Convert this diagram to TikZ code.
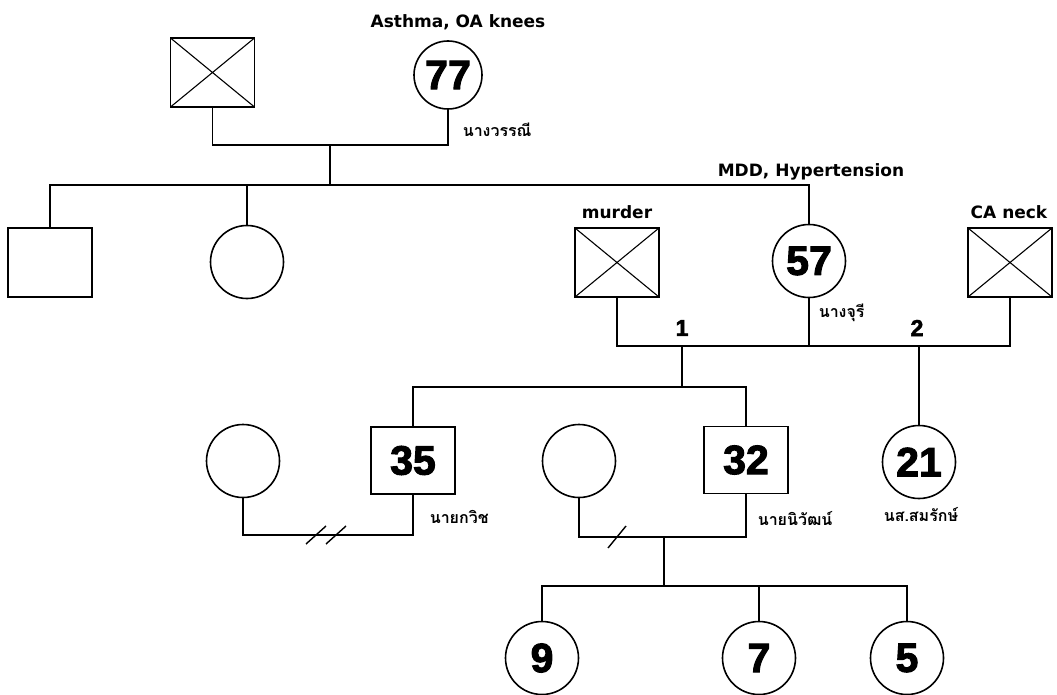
\documentclass[tikz,border=0pt]{standalone}
\usepackage{fontspec}
\setmainfont{DejaVu Sans}
\newfontfamily\thaifont[Script=Thai]{Loma}
\newfontfamily\agefont{Liberation Sans}[BoldFeatures={FakeBold=2.5}]
\usetikzlibrary{calc}
\begin{document}
\begin{tikzpicture}[x=1pt,y=-1pt,line width=1.6pt,
  male/.style={draw,rectangle,minimum width=84pt,minimum height=69pt,inner sep=0pt},
  female/.style={draw,circle,minimum size=73pt,inner sep=0pt},
  dead/.style={path picture={\draw[line width=1.1pt]
      (path picture bounding box.north west) -- (path picture bounding box.south east)
      (path picture bounding box.north east) -- (path picture bounding box.south west);}},
  age/.style={font=\agefont\bfseries\fontsize{41}{41}\selectfont},
  note/.style={font=\bfseries\fontsize{17}{17}\selectfont,inner sep=0pt},
  mnum/.style={font=\agefont\bfseries\fontsize{23}{23}\selectfont,inner sep=0pt},
  thai/.style={font=\thaifont\bfseries\fontsize{16}{16}\selectfont,anchor=west,inner sep=0pt},
  slash/.style={line width=1.4pt}]
\useasboundingbox (0,0) rectangle (1057,695);

% generation I
\node[male,dead] (gf) at (212.5,72.5) {};
\node[female,minimum size=68pt,age] (gm) at (448,75) {77};
\node[note] (gmn) at (458,22) {Asthma, OA knees};
\node[thai] (gml) at (462,130) {นางวรรณี};
\coordinate (m0) at (330,145);
\coordinate (s0) at (330,185);
\draw (gf.south) |- (m0) -| (gm.south);
\draw (m0) -- (s0);

% generation II
\node[male] (unc) at (50,262.5) {};
\node[female] (aunt) at (247,262) {};
\node[male,dead] (h1) at (617,262.5) {};
\node[note] (h1n) at (617,212) {murder};
\node[female,age] (mom) at (809,261) {57};
\node[note] (momn) at (811,172) {MDD, Hypertension};
\node[thai] (moml) at (818,313) {นางจุรี};
\node[male,dead] (h2) at (1010,262.5) {};
\node[note] (h2n) at (1009,212) {CA neck};
\draw (unc.north) |- (s0) -| (mom.north);
\draw (aunt.north) -- (aunt.north |- s0);

\coordinate (mm) at (809,346);
\draw (h1.south) |- (mm) -| (h2.south);
\draw (mom.south) -- (mm);
\node[mnum] (n1) at (682,328) {1};
\node[mnum] (n2) at (917,328) {2};

% generation III
\coordinate (d1) at (682,346);
\coordinate (s1) at (682,387);
\draw (d1) -- (s1);
\node[male,minimum height=67pt,age] (p35) at (413,460.5) {35};
\node[male,minimum height=67pt,age] (p32) at (746,460) {32};
\draw (p35.north) |- (s1) -| (p32.north);
\node[thai] (p35l) at (429,517) {นายกวิช};
\node[thai] (p32l) at (757,519) {นายนิวัฒน์};

\coordinate (d2) at (919,346);
\node[female,age] (c21) at (919,462) {21};
\draw (d2) -- (c21.north);
\node[thai] (c21l) at (883,515) {นส.สมรักษ์};

\node[female] (w1) at (243,461) {};
\node[female] (w2) at (579,461) {};
\coordinate (m1) at (326,535);
\draw (w1.south) |- (m1) -| (p35.south);
\draw[slash] ($(m1)+(-20,9)$) -- ($(m1)+(0,-9)$);
\draw[slash] ($(m1)+(0,9)$) -- ($(m1)+(20,-9)$);
\coordinate (m2) at (664,537);
\coordinate (x2) at (617,537);
\draw (w2.south) |- (m2) -| (p32.south);
\draw[slash] ($(x2)+(-9,11)$) -- ($(x2)+(9,-11)$);

% generation IV
\coordinate (s2) at (664,586);
\draw (m2) -- (s2);
\node[female,age] (c9) at (542,658) {9};
\node[female,age] (c7) at (759,658) {7};
\node[female,age] (c5) at (907,658) {5};
\draw (c9.north) |- (s2) -| (c5.north);
\draw (c7.north) -- (c7.north |- s2);
\end{tikzpicture}
\end{document}
